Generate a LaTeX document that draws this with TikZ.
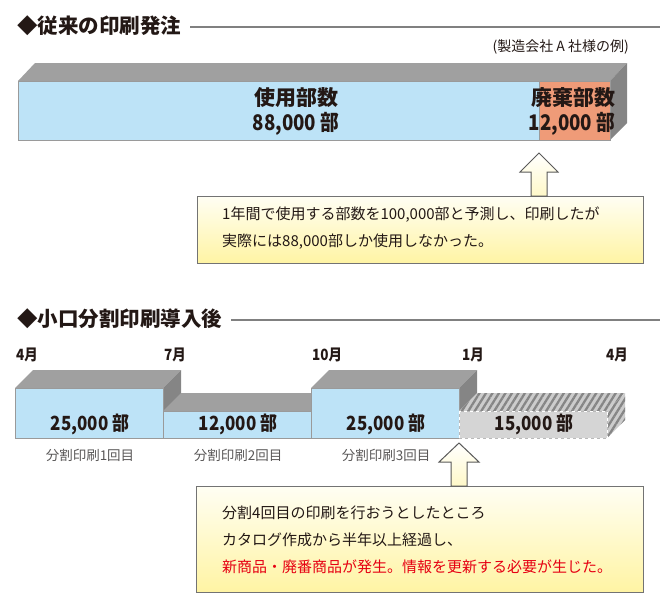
\documentclass[tikz,border=0pt]{standalone}
\usepackage{fontspec}
\setmainfont{Noto Sans CJK JP}
\newfontfamily\jpc{Noto Sans CJK JP}[FakeStretch=0.87]
\usetikzlibrary{patterns.meta}
\definecolor{ink}{HTML}{231815}
\definecolor{skyb}{HTML}{BDE3F7}
\definecolor{salmon}{HTML}{EF9B78}
\definecolor{topg}{HTML}{A0A0A0}
\definecolor{sideg}{HTML}{858585}
\definecolor{edgeg}{HTML}{9A9A9A}
\definecolor{subg}{HTML}{595757}
\definecolor{alert}{HTML}{E60012}
\definecolor{ylo}{HTML}{FFF4A3}
\definecolor{ylt}{HTML}{FFFEF3}
\tikzset{
  ttl/.style={anchor=west, inner sep=0pt, text=ink, font=\bfseries\fontsize{20.5}{20.5}\selectfont},
  rule/.style={draw=gray, line width=1.2pt},
  note/.style={anchor=east, inner sep=0pt, text=ink, font=\fontsize{14}{14}\selectfont},
  kanjilab/.style={inner sep=0pt, text=ink, font=\bfseries\fontsize{21}{21}\selectfont},
  numlab/.style={inner sep=0pt, text=ink, font=\jpc\bfseries\fontsize{21.5}{21.5}\selectfont},
  blklab/.style={inner sep=0pt, text=ink, font=\jpc\bfseries\fontsize{19.5}{19.5}\selectfont},
  month/.style={anchor=west, inner sep=0pt, text=ink, font=\jpc\bfseries\fontsize{15.5}{15.5}\selectfont},
  sublab/.style={inner sep=0pt, text=subg, font=\fontsize{13.5}{13.5}\selectfont},
  boxtxt/.style={anchor=west, inner sep=0pt, text=ink, font=\fontsize{15}{15}\selectfont},
  topface/.style={fill=topg},
  sideface/.style={fill=sideg},
  frontface/.style={draw=edgeg, line width=0.6pt},
  callout/.style={draw=gray!90!black, line width=1.3pt, top color=ylt, bottom color=ylo},
  uparrow/.style={draw=gray!70!black, line width=1pt, top color=white, bottom color=ylo!60, line join=miter},
  hatch/.style={fill=gray!40, postaction={pattern={Lines[angle=58,distance=5.5pt,line width=2.3pt]}, pattern color=gray!95}},
}
\begin{document}
\begin{tikzpicture}[x=1pt,y=-1pt]
\useasboundingbox (0,0) rectangle (660,600);
% ---------- section 1 ----------
\node[ttl] (t1) at (17,26) {◆従来の印刷発注};
\coordinate (r1) at (660,27);
\draw[rule] (t1.east |- r1) ++(9,0) -- (r1);
\node[note] (n1) at (629,47) {(製造会社 A 社様の例)};
% bar
\fill[topface] (18,81) -- (35,63) -- (627,63) -- (610,81) -- cycle;
\fill[sideface] (610,81) -- (627,63) -- (627,123) -- (610,140) -- cycle;
\fill[skyb] (18,81) rectangle (539,140);
\fill[salmon] (539,81) rectangle (610,140);
\draw[frontface] (18,81) rectangle (610,140);
\draw[edgeg, line width=0.6pt] (539,81) -- (539,140);
\node[kanjilab] (u1) at (296,98) {使用部数};
\node[numlab] (u2) at (296,124) {88,000 部};
\node[kanjilab] (w1) at (573,98) {廃棄部数};
\node[numlab] (w2) at (572,124) {12,000 部};
% callout 1
\node[callout, anchor=north west, minimum width=446pt, minimum height=67pt, inner sep=0pt] (b1) at (197,196) {};
\coordinate (a1) at (539,153);
\draw[uparrow] (a1) -- ++(19,19) -- ++(-11,0) -- ++(0,24) -- ++(-16,0) -- ++(0,-24) -- ++(-11,0) -- cycle;
\node[boxtxt] (b1l1) at (222,215) {1年間で使用する部数を100,000部と予測し、印刷したが};
\node[boxtxt] (b1l2) at (222,242) {実際には88,000部しか使用しなかった。};
% ---------- section 2 ----------
\node[ttl] (t2) at (17,319) {◆小口分割印刷導入後};
\coordinate (r2) at (660,320);
\draw[rule] (t2.east |- r2) ++(9,0) -- (r2);
\node[month] (m1) at (16,355) {4月};
\node[month] (m2) at (164,355) {7月};
\node[month] (m3) at (312,355) {10月};
\node[month] (m4) at (462,355) {1月};
\node[month] (m5) at (606,355) {4月};
% block 1
\fill[topface] (15,388) -- (33,370) -- (181,370) -- (163,388) -- cycle;
\fill[sideface] (163,388) -- (181,370) -- (181,420) -- (163,438) -- cycle;
\fill[skyb] (15,388) rectangle (163,438);
\draw[frontface] (15,388) rectangle (163,438);
% block 2
\fill[topface] (163,411) -- (181,393) -- (329,393) -- (311,411) -- cycle;
\fill[skyb] (163,411) rectangle (311,438);
\draw[frontface] (163,411) rectangle (311,438);
% block 3
\fill[topface] (311,388) -- (329,370) -- (477,370) -- (459,388) -- cycle;
\fill[sideface] (459,388) -- (477,370) -- (477,420) -- (459,438) -- cycle;
\fill[skyb] (311,388) rectangle (459,438);
\draw[frontface] (311,388) rectangle (459,438);
% block 4 (planned, hatched)
\path[hatch] (459,411) -- (477,393) -- (625,393) -- (607,411) -- cycle;
\path[hatch] (607,411) -- (625,393) -- (625,420) -- (607,438) -- cycle;
\fill[gray!33] (459,411) rectangle (607,438);
\draw[gray!55, line width=1pt] (459,411) rectangle (607,438);
\draw[white, line width=1pt, dash pattern=on 3pt off 3pt] (459,411) rectangle (607,438);
% block labels
\node[blklab] (k1) at (90,424) {25,000 部};
\node[blklab] (k2) at (238,424) {12,000 部};
\node[blklab] (k3) at (386,424) {25,000 部};
\node[blklab] (k4) at (534,424) {15,000 部};
\node[sublab] (s1) at (90,455) {分割印刷1回目};
\node[sublab] (s2) at (238,455) {分割印刷2回目};
\node[sublab] (s3) at (386,455) {分割印刷3回目};
% callout 2
\node[callout, anchor=north west, minimum width=447pt, minimum height=106pt, inner sep=0pt] (b2) at (196,486) {};
\coordinate (a2) at (459,443);
\draw[uparrow] (a2) -- ++(20,19) -- ++(-12,0) -- ++(0,24) -- ++(-16,0) -- ++(0,-24) -- ++(-12,0) -- cycle;
\node[boxtxt] (b2l1) at (222,513) {分割4回目の印刷を行おうとしたところ};
\node[boxtxt] (b2l2) at (222,540) {カタログ作成から半年以上経過し、};
\node[boxtxt, text=alert] (b2l3) at (222,567) {新商品・廃番商品が発生。情報を更新する必要が生じた。};
\end{tikzpicture}
\end{document}
